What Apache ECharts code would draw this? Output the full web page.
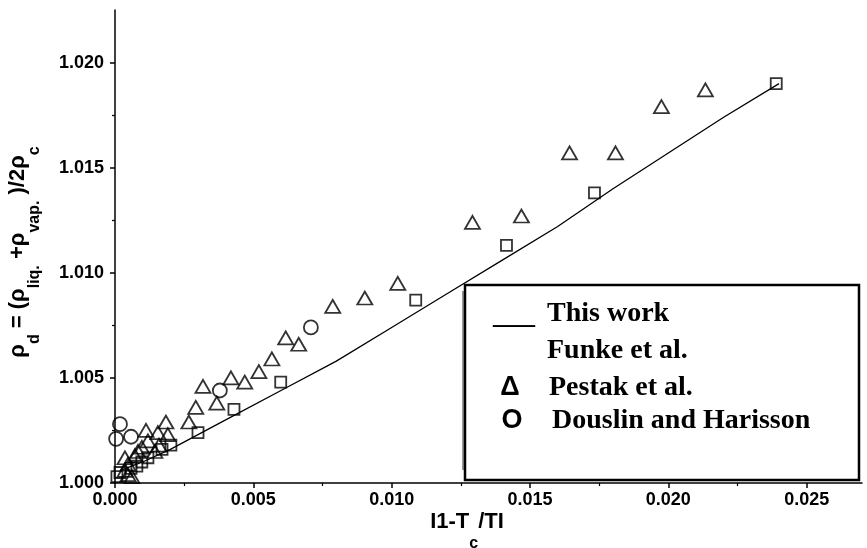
<!DOCTYPE html>
<html>
<head>
<meta charset="utf-8">
<script src="https://cdn.jsdelivr.net/npm/echarts@6/dist/echarts.min.js"></script>
<style>
  html, body { margin: 0; padding: 0; background: #fff; }
  #chart { width: 867px; height: 548px; }
</style>
</head>
<body>
<div id="chart"></div>
<script>
/* ===========================
   Data
=========================== */

const xTicks = [0, 0.005, 0.010, 0.015, 0.020, 0.025];
const yTicks = [1.000, 1.005, 1.010, 1.015, 1.020];

const thisWorkX = [0.0002, 0.001, 0.002, 0.004, 0.006, 0.008, 0.010, 0.012, 0.014, 0.016, 0.018, 0.020, 0.022, 0.024];
const thisWorkY = [1.0006, 1.0010, 1.0016, 1.0030, 1.0044, 1.0058, 1.0074, 1.0090, 1.0106, 1.0122, 1.0140, 1.0157, 1.0174, 1.0190];

const funkeX = [0.0239, 0.01733, 0.01415, 0.01087, 0.00599, 0.0043, 0.0030, 0.00202, 0.0017, 0.00119, 0.00097, 0.00079, 0.00058, 0.00018, 0.00007];
const funkeY = [1.0190, 1.0138, 1.0113, 1.0087, 1.0048, 1.0035, 1.0024, 1.0018, 1.0016, 1.0012, 1.0010, 1.0008, 1.0007, 1.0005, 1.0003];

const pestakX = [0.02134, 0.01975, 0.01809, 0.01643, 0.01469, 0.01292, 0.01022, 0.00903, 0.00787, 0.00617, 0.00664, 0.00567, 0.0052, 0.00419, 0.00469, 0.00318, 0.00368, 0.00292, 0.00267,
                 0.00184, 0.00112, 0.00155, 0.00191, 0.00119, 0.00159, 0.00097, 0.00144, 0.00083, 0.00072, 0.00036, 0.00047, 0.00036, 0.00047, 0.00061];
const pestakY = [1.0187, 1.0179, 1.0157, 1.0157, 1.0127, 1.0124, 1.0095, 1.0088, 1.0084, 1.0069, 1.0066, 1.0059, 1.0053, 1.0050, 1.0048, 1.0046, 1.0038, 1.0036, 1.0029,
                 1.0029, 1.0025, 1.0024, 1.0023, 1.0020, 1.0018, 1.0017, 1.0015, 1.0015, 1.0013, 1.0012, 1.0009, 1.0006, 1.0004, 1.0003];

const douslinX = [0.00018, 0.00004, 0.00058, 0.00379, 0.00708];
const douslinY = [1.0028, 1.0021, 1.0022, 1.0044, 1.0074];

function zip(xs, ys) {
    return xs.map((x, i) => [x, ys[i]]);
}

/* ===========================
   Chart
=========================== */

const chart = echarts.init(document.getElementById("chart"));

const SANS = "'Liberation Sans', Arial, sans-serif";
const SERIF = "'Liberation Serif', 'Times New Roman', serif";

const hollow = {
    color: "rgba(0,0,0,0)",
    borderColor: "#000",
    borderWidth: 1.8
};

function axisCommon(ticks) {
    return {
        axisLine: { lineStyle: { color: "#000", width: 1.5 } },
        axisTick: {
            inside: false,
            length: 5,
            lineStyle: { color: "#000", width: 1.5 },
            customValues: ticks
        },
        minorTick: {
            show: true,
            splitNumber: 2,
            length: 3,
            lineStyle: { color: "#000", width: 1.2 }
        },
        splitLine: { show: false },
        axisLabel: {
            color: "#000",
            fontFamily: SANS,
            fontWeight: "bold",
            fontSize: 18,
            customValues: ticks,
            formatter: v => Number(v).toFixed(3)
        }
    };
}

const xAxis = Object.assign({
    type: "value",
    min: 0,
    max: 0.027,
    interval: 0.005
}, axisCommon(xTicks));
xAxis.axisLabel.margin = 8;

const yAxis = Object.assign({
    type: "value",
    min: 1.000,
    max: 1.0225,
    interval: 0.005
}, axisCommon(yTicks));
yAxis.axisLabel.margin = 11;

// legend text, drawn as plain text on top of the box
const legendFont = "bold 28px " + SERIF;
const legendTexts = [
    { x: 493, y: 316, text: "___", font: legendFont },
    { x: 547, y: 314, text: "This work", font: legendFont },
    { x: 547, y: 351, text: "Funke et al.", font: legendFont },
    { x: 510, y: 388, text: "Δ", font: "bold 27px " + SANS, align: "center" },
    { x: 549, y: 388, text: "Pestak et al.", font: legendFont },
    { x: 512, y: 421, text: "O", font: "bold 27px " + SANS, align: "center" },
    { x: 552, y: 421, text: "Douslin and Harisson", font: legendFont }
];

chart.setOption({

    animation: false,

    grid: {
        left: 115,
        right: 5,
        top: 10,
        bottom: 65
    },

    xAxis: xAxis,
    yAxis: yAxis,

    series: [
        {
            name: "This work",
            type: "line",
            showSymbol: false,
            lineStyle: { color: "#000", width: 1.3 },
            data: zip(thisWorkX, thisWorkY)
        },
        {
            name: "Funke et al.",
            type: "scatter",
            symbol: "rect",
            symbolSize: 11,
            itemStyle: hollow,
            data: zip(funkeX, funkeY)
        },
        {
            name: "Pestak et al.",
            type: "scatter",
            symbol: "triangle",
            symbolSize: [15, 13],
            itemStyle: hollow,
            data: zip(pestakX, pestakY)
        },
        {
            name: "Douslin and Harisson",
            type: "scatter",
            symbol: "circle",
            symbolSize: 14,
            itemStyle: hollow,
            data: zip(douslinX, douslinY)
        }
    ],

    graphic: [
        // y axis title
        {
            type: "text",
            x: 18,
            y: 252,
            rotation: Math.PI / 2,
            style: {
                text: "{m|ρ}{s|d}{m| = (ρ}{s|liq.}{m| +ρ}{s|vap.}{m| )/2ρ}{s|c}",
                align: "center",
                verticalAlign: "middle",
                fill: "#000",
                rich: {
                    m: { fontFamily: SANS, fontWeight: "bold", fontSize: 22, lineHeight: 50, verticalAlign: "middle" },
                    s: { fontFamily: SANS, fontWeight: "bold", fontSize: 16, lineHeight: 16, verticalAlign: "bottom" }
                }
            }
        },
        // x axis title
        {
            type: "text",
            x: 467,
            y: 522,
            style: {
                text: "{m|I1-T}{s|c}{m|/TI}",
                align: "center",
                verticalAlign: "middle",
                fill: "#000",
                rich: {
                    m: { fontFamily: SANS, fontWeight: "bold", fontSize: 22, lineHeight: 60, verticalAlign: "middle" },
                    s: { fontFamily: SANS, fontWeight: "bold", fontSize: 16, lineHeight: 16, verticalAlign: "bottom" }
                }
            }
        },
        // legend box
        {
            type: "line",
            z: 99,
            shape: { x1: 463, y1: 291, x2: 463, y2: 470 },
            style: { stroke: "#999", lineWidth: 2 }
        },
        {
            type: "rect",
            z: 100,
            shape: { x: 465, y: 285, width: 394, height: 195 },
            style: { fill: "#fff", stroke: "#000", lineWidth: 2.5 }
        }
    ].concat(legendTexts.map(t => ({
        type: "text",
        z: 101,
        x: t.x,
        y: t.y,
        style: {
            text: t.text,
            font: t.font,
            fill: "#000",
            align: t.align || "left",
            verticalAlign: "middle"
        }
    })))

});
</script>
</body>
</html>
